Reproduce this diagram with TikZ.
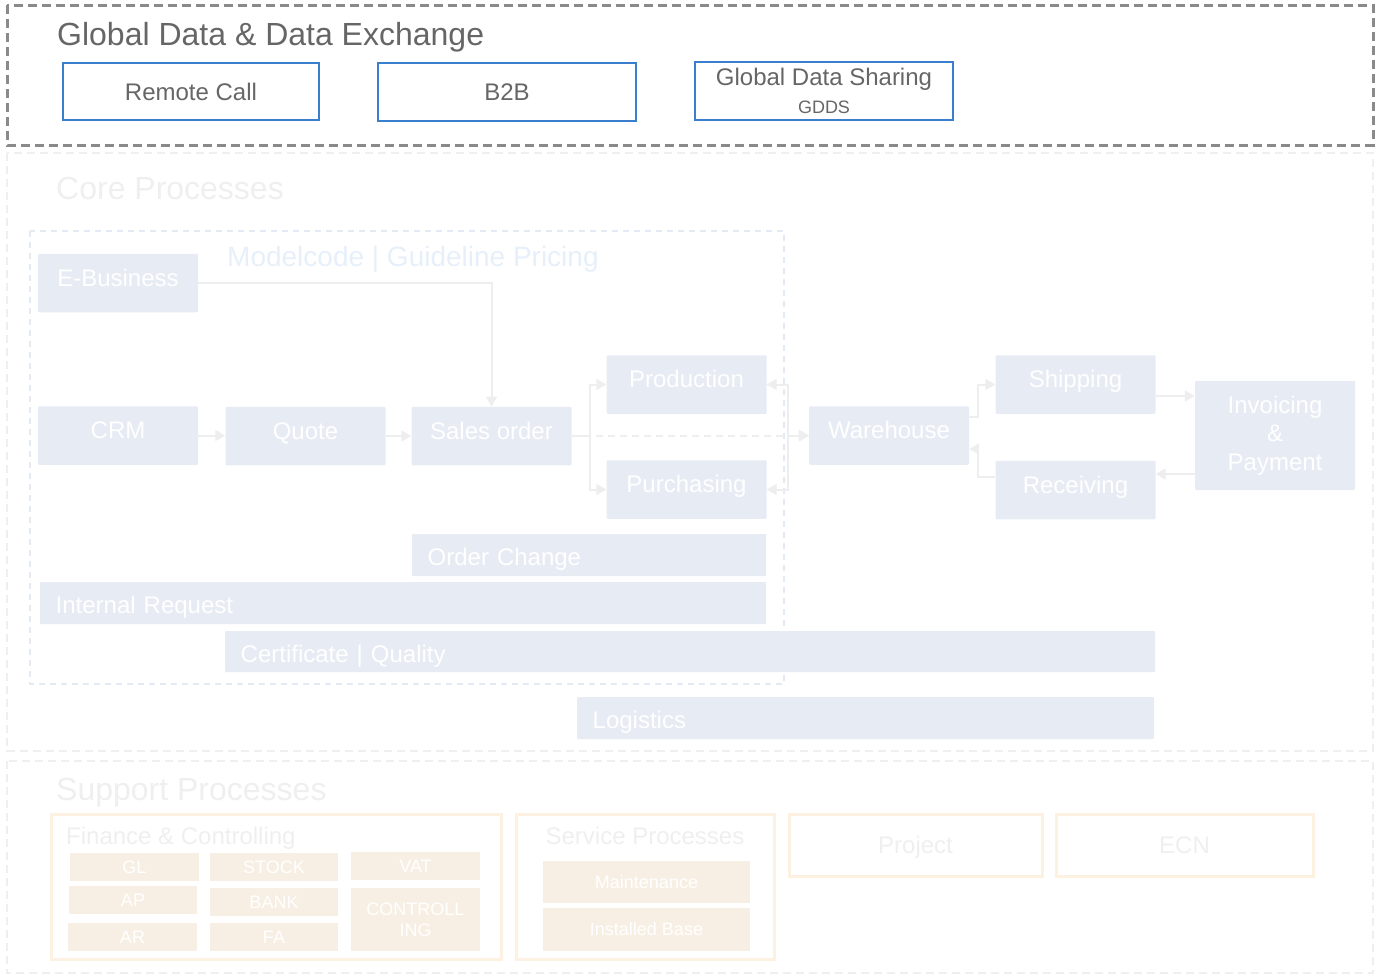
\documentclass[tikz,border=0pt]{standalone}
\usepackage{fontspec}
\setmainfont{Liberation Sans}
\usetikzlibrary{arrows.meta,calc}
\definecolor{gframe}{HTML}{8A8A8A}
\definecolor{gtext}{HTML}{666666}
\definecolor{gblue}{HTML}{3A7FCE}
\definecolor{faint}{HTML}{EFEFEF}
\definecolor{mframe}{HTML}{E3EAF4}
\definecolor{mtext}{HTML}{E6EFFA}
\definecolor{pfill}{HTML}{E7EBF4}
\definecolor{oframe}{HTML}{FDF1E2}
\definecolor{ofill}{HTML}{F8EFE4}
\definecolor{arrc}{HTML}{EEEEEE}
\newcommand{\fsA}{\fontsize{24}{28.5}\selectfont}
\newcommand{\fsB}{\fontsize{18}{21}\selectfont}
\newcommand{\fsC}{\fontsize{32}{38}\selectfont}
\newcommand{\fsD}{\fontsize{28}{33}\selectfont}
\tikzset{
  frame/.style={dashed, dash pattern=on 8pt off 5pt, line width=2pt},
  bluebox/.style={draw=gblue, line width=2.5pt, fill=white, text=gtext, font=\fsA, inner sep=0pt, text height=17.2pt, text depth=0pt},
  procbase/.style={fill=pfill, draw=none, text=white, font=\fsA, inner sep=0pt, rounded corners=1pt},
  proc/.style={procbase, text height=17pt, text depth=11pt, minimum width=160pt, minimum height=58.5pt},
  bar/.style={fill=pfill, text=white, font=\fsA, anchor=west, inner xsep=15.5pt, inner ysep=0pt, align=left, text height=21.2pt, text depth=0pt, rounded corners=1pt},
  obox/.style={draw=oframe, line width=3pt, text=faint, font=\fsA, inner sep=0pt},
  ofil/.style={fill=ofill, text=white, font=\fsB, inner sep=0pt},
  title/.style={anchor=base west, inner sep=0pt},
  arr/.style={draw=arrc, line width=2pt, -{Triangle[length=10pt,width=11pt]}},
  arrboth/.style={draw=arrc, line width=2pt, {Triangle[length=10pt,width=11pt]}-{Triangle[length=10pt,width=11pt]}}
}
\begin{document}
\begin{tikzpicture}[x=1pt,y=-1pt]
\useasboundingbox (0,0) rectangle (1377,977);
% frames
\draw[frame, draw=gframe, line width=3pt, dash pattern=on 9pt off 5pt] (7,5) rectangle (1373,145);
\draw[frame, draw=faint] (7,153) rectangle (1373,751);
\draw[frame, draw=mframe, line width=1.5pt, dash pattern=on 6pt off 5pt] (30,231) rectangle (784,684);
\draw[frame, draw=faint] (7,761) rectangle (1373,973);
% titles
\node[title, text=gtext, font=\fsC] (tglobal) at (57,45.5) {Global Data \& Data Exchange};
\node[title, text=faint, font=\fsC] (tcore) at (56,199.5) {Core Processes};
\node[title, text=mtext, font=\fsD] (tmodel) at (227,266) {Modelcode | Guideline Pricing};
\node[title, text=faint, font=\fsC] (tsupport) at (56,800.5) {Support Processes};
% global data boxes
\node[bluebox, minimum width=256pt, minimum height=57pt] (rc) at (191,91.5) {Remote Call};
\node[bluebox, minimum width=258pt, minimum height=58pt] (b2b) at (507,92) {B2B};
\node[draw=gblue, line width=2.5pt, fill=white, text=gtext, font=\fsA, inner sep=0pt, align=center, minimum width=258pt, minimum height=58pt] (gdds) at (824,91) {Global Data Sharing\\{\fsB GDDS}};
% process boxes
\node[proc] (eb) at (118,283) {E-Business};
\node[proc] (crm) at (118,435.5) {CRM};
\node[proc] (quote) at (305.5,436) {Quote};
\node[proc] (so) at (491.5,436) {Sales order};
\node[proc] (prod) at (686.5,384.5) {Production};
\node[proc] (pur) at (686.5,489.5) {Purchasing};
\node[proc] (wh) at (889,435.5) {Warehouse};
\node[proc] (ship) at (1075.5,384.5) {Shipping};
\node[proc] (rec) at (1075.5,490) {Receiving};
\node[procbase, align=center, minimum width=160pt, minimum height=109pt] (inv) at (1275,435.5) {Invoicing\\\&\\Payment};
% bars
\node[bar, text width=323pt, minimum height=42pt] (oc) at (412,555) {Order Change};
\node[bar, text width=695pt, minimum height=42pt] (ir) at (40,603) {Internal Request};
\node[bar, text width=899pt, minimum height=41pt] (cq) at (225,651.5) {Certificate | Quality};
\node[bar, text width=546pt, minimum height=42pt] (lg) at (577,718) {Logistics};
% connectors
\draw[arr] (eb.east) -| (so.north);
\draw[arr] (crm.east) -- (crm.east -| quote.west);
\draw[arr] (quote.east) -- (quote.east -| so.west);
\draw[arr] (so.east) -- ++(18,0) |- (prod.west);
\draw[arr] (so.east) -- ++(18,0) |- (pur.west);
\draw[arr, dash pattern=on 7pt off 5pt, line width=1.5pt] (so.east) -- (so.east -| wh.west);
\draw[arrboth] (prod.east) -- ++(21,0) |- (wh.west);
\draw[arrboth] (pur.east) -- ++(21,0) |- (wh.west);
\coordinate (w1) at ($(wh.east)+(0,-18.5)$);
\draw[arr] (w1) -- ++(9,0) |- (ship.west);
\coordinate (rr) at ($(rec.west)+(0,-13)$);
\coordinate (w2) at ($(wh.east)+(0,13.5)$);
\draw[arr] (rr) -- ++(-17,0) |- (w2);
\coordinate (s1) at ($(ship.east)+(0,11.5)$);
\draw[arr] (s1) -- (s1 -| inv.west);
\coordinate (r1) at ($(rec.east)+(0,-16)$);
\draw[arr] (r1 -| inv.west) -- (r1);
% support processes
\node[obox, minimum width=450pt, minimum height=145pt] (fin) at (276,886.5) {};
\node[title, text=faint, font=\fsA] (tfin) at (66,844.6) {Finance \& Controlling};
\node[obox, minimum width=258pt, minimum height=145pt] (svc) at (645,886.5) {};
\node[anchor=base, inner sep=0pt, text=faint, font=\fsA] (tsvc) at (645,844.6) {Service Processes};
\node[obox, minimum width=253pt, minimum height=62pt, text height=17.2pt, text depth=0pt] (proj) at (915.5,845) {Project};
\node[obox, minimum width=257pt, minimum height=62pt, text height=17.2pt, text depth=0pt] (ecn) at (1184.5,845) {ECN};
\node[ofil, minimum width=129pt, minimum height=28pt] (gl) at (134.5,867) {GL};
\node[ofil, minimum width=128pt, minimum height=28pt] (stock) at (274,867) {STOCK};
\node[ofil, minimum width=129pt, minimum height=28pt] (vat) at (415.5,866) {VAT};
\node[ofil, minimum width=128pt, minimum height=28pt] (ap) at (133,900) {AP};
\node[ofil, minimum width=128pt, minimum height=28pt] (bank) at (274,902) {BANK};
\node[ofil, minimum width=129pt, minimum height=63pt, align=center] (ctrl) at (415.5,919.5) {CONTROLL\\ING};
\node[ofil, minimum width=129pt, minimum height=28pt] (ar) at (132.5,937) {AR};
\node[ofil, minimum width=128pt, minimum height=28pt] (fa) at (274,937) {FA};
\node[ofil, minimum width=207pt, minimum height=42pt] (maint) at (646.5,882) {Maintenance};
\node[ofil, minimum width=207pt, minimum height=43pt] (ib) at (646.5,929.5) {Installed Base};
\end{tikzpicture}
\end{document}
